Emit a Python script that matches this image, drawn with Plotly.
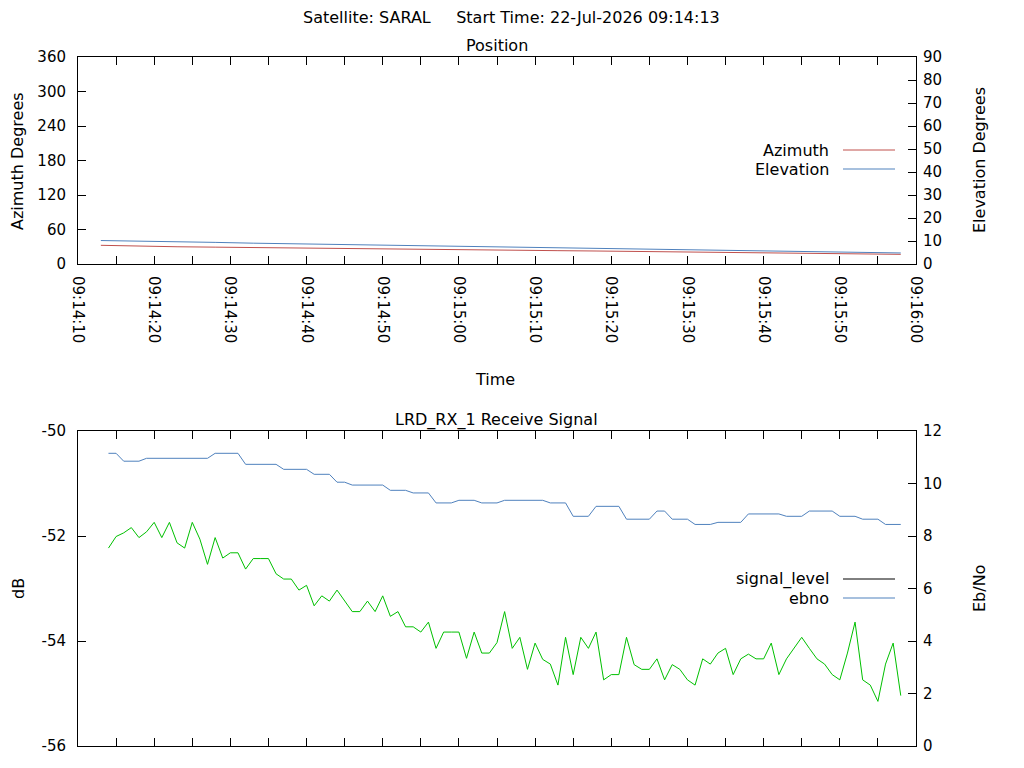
import plotly.graph_objects as go

DAY = "2026-07-22 "

# --- Position panel (sampled every 5 s) ---
pos_times = [
    "09:14:13", "09:14:18", "09:14:23", "09:14:28", "09:14:33", "09:14:38",
    "09:14:43", "09:14:48", "09:14:53", "09:14:58", "09:15:03", "09:15:08",
    "09:15:13", "09:15:18", "09:15:23", "09:15:28", "09:15:33", "09:15:38",
    "09:15:43", "09:15:48", "09:15:53", "09:15:58",
]
azimuth = [
    32.5, 31.0, 30.0, 29.3, 28.5, 27.6, 27.0, 26.2, 25.5, 25.0, 24.4, 23.8,
    23.2, 22.6, 22.0, 21.6, 21.0, 20.5, 19.9, 19.3, 18.7, 16.8,
]
elevation = [
    10.2, 10.0, 9.5, 9.4, 9.05, 8.8, 8.55, 8.3, 8.05, 7.8, 7.5, 7.3,
    7.05, 6.85, 6.6, 6.35, 6.1, 5.9, 5.6, 5.4, 5.1, 4.8,
]

# --- Receive signal panel (one sample per second from 09:14:14) ---
sig_start_sec = 14 * 60 + 14
signal_level = [
    -52.23, -52.01, -51.94, -51.84, -52.03, -51.92, -51.74, -52.03, -51.74, -52.13,
    -52.23, -51.74, -52.06, -52.54, -52.03, -52.42, -52.32, -52.32, -52.63, -52.43,
    -52.43, -52.43, -52.72, -52.82, -52.82, -53.03, -52.94, -53.33, -53.14, -53.24,
    -53.03, -53.24, -53.44, -53.44, -53.24, -53.44, -53.14, -53.53, -53.44, -53.73,
    -53.73, -53.83, -53.64, -54.14, -53.83, -53.83, -53.83, -54.33, -53.83, -54.23,
    -54.23, -54.03, -53.44, -54.14, -53.93, -54.54, -54.04, -54.35, -54.44, -54.84,
    -53.93, -54.64, -53.93, -54.14, -53.83, -54.74, -54.64, -54.64, -53.93, -54.45,
    -54.54, -54.54, -54.34, -54.74, -54.45, -54.54, -54.74, -54.84, -54.34, -54.44,
    -54.23, -54.14, -54.64, -54.34, -54.25, -54.34, -54.34, -54.04, -54.64, -54.34,
    -54.14, -53.93, -54.14, -54.34, -54.44, -54.64, -54.74, -54.23, -53.64, -54.74,
    -54.84, -55.15, -54.44, -54.04, -55.04,
]
ebno = [
    11.15, 11.15, 10.85, 10.85, 10.85, 10.96, 10.96, 10.96, 10.96, 10.96,
    10.96, 10.96, 10.96, 10.96, 11.15, 11.15, 11.15, 11.15, 10.73, 10.73,
    10.73, 10.73, 10.73, 10.54, 10.54, 10.54, 10.54, 10.35, 10.35, 10.35,
    10.05, 10.05, 9.94, 9.94, 9.94, 9.94, 9.94, 9.74, 9.74, 9.74,
    9.64, 9.64, 9.64, 9.26, 9.26, 9.26, 9.36, 9.36, 9.36, 9.26,
    9.26, 9.26, 9.36, 9.36, 9.36, 9.36, 9.36, 9.36, 9.26, 9.26,
    9.26, 8.75, 8.75, 8.75, 9.13, 9.13, 9.13, 9.13, 8.64, 8.64,
    8.64, 8.64, 8.95, 8.95, 8.64, 8.64, 8.64, 8.44, 8.44, 8.44,
    8.52, 8.52, 8.52, 8.52, 8.84, 8.84, 8.84, 8.84, 8.84, 8.75,
    8.75, 8.75, 8.95, 8.95, 8.95, 8.95, 8.75, 8.75, 8.75, 8.64,
    8.64, 8.64, 8.44, 8.44, 8.44,
]

# dB ticks written with a plain hyphen, as gnuplot does
db_ticks = [-56, -54, -52, -50]
db_labels = ["-56", "-54", "-52", "-50"]

RED = "#c0504d"
BLUE = "#4f81bd"
GREEN = "#00c000"
FONT = "DejaVu Sans"

# the page body adds an 8 px margin, so work in screen pixels and shift
OFF = 8
W, H = 1024 - 2 * OFF, 768 - 2 * OFF
L, R, T, B = 78, 916, 57, 746  # plot area on screen


def px(x):
    return (x - L) / (R - L)


def py(y):
    return (B - y) / (B - T)


def hms(sec):
    return f"{DAY}09:{sec // 60:02d}:{sec % 60:02d}"


pos_x = [DAY + t for t in pos_times]
sig_x = [hms(sig_start_sec + i) for i in range(len(signal_level))]

fig = go.Figure()
fig.add_trace(go.Scatter(x=pos_x, y=azimuth, mode="lines", line=dict(color=RED, width=1),
                         xaxis="x", yaxis="y", showlegend=False))
fig.add_trace(go.Scatter(x=pos_x, y=elevation, mode="lines", line=dict(color=BLUE, width=1),
                         xaxis="x", yaxis="y2", showlegend=False))
fig.add_trace(go.Scatter(x=sig_x, y=signal_level, mode="lines", line=dict(color=GREEN, width=1),
                         xaxis="x2", yaxis="y3", showlegend=False))
fig.add_trace(go.Scatter(x=sig_x, y=ebno, mode="lines", line=dict(color=BLUE, width=1),
                         xaxis="x2", yaxis="y4", showlegend=False))

x_range = [DAY + "09:14:10", DAY + "09:16:00"]
common_x = dict(
    type="date", range=x_range, tick0=DAY + "09:14:10", dtick=10000,
    ticks="inside", ticklen=8, tickcolor="black", showline=True, linecolor="black",
    mirror="allticks", showgrid=False, zeroline=False,
    tickfont=dict(size=15),
    minor=dict(dtick=5000, ticks="inside", ticklen=4, tickcolor="black", showgrid=False),
)
common_y = dict(ticks="inside", ticklen=8, tickcolor="black", showline=True,
                linecolor="black", showgrid=False, zeroline=False, tickfont=dict(size=15))

top_dom = [py(264), 1.0]
bot_dom = [0.0, py(431)]

fig.update_layout(
    width=W, height=H,
    margin=dict(l=L - OFF, r=W + OFF - R, t=T - OFF, b=H + OFF - B, autoexpand=False),
    paper_bgcolor="white", plot_bgcolor="white",
    font=dict(family=FONT, size=16, color="black"),
    showlegend=False,
    xaxis=dict(common_x, anchor="y", domain=[0, 1], tickformat="%H:%M:%S",
               tickangle=90, ticklabelstandoff=8, automargin=False),
    xaxis2=dict(common_x, anchor="y3", domain=[0, 1], showticklabels=False),
    yaxis=dict(common_y, domain=top_dom, range=[0, 360], dtick=60, anchor="x",
               ticklabelstandoff=8),
    yaxis2=dict(common_y, overlaying="y", side="right", range=[0, 90], dtick=10, anchor="x",
                ticklabelstandoff=3),
    yaxis3=dict(common_y, domain=bot_dom, range=[-56, -50], tickmode="array",
                tickvals=db_ticks, ticktext=db_labels, anchor="x2", ticklabelstandoff=8),
    yaxis4=dict(common_y, overlaying="y3", side="right", range=[0, 12], dtick=2, anchor="x2",
                ticklabelstandoff=3),
)

ann = [
    dict(text="Satellite: SARAL     Start Time: 22-Jul-2026 09:14:13", x=px(511), y=py(17)),
    dict(text="Position", x=px(497), y=py(46)),
    dict(text="LRD_RX_1 Receive Signal", x=px(496), y=py(420)),
    dict(text="Time", x=px(495), y=py(379)),
    dict(text="Azimuth Degrees", x=px(18), y=py(161), textangle=-90),
    dict(text="Elevation Degrees", x=px(979), y=py(160), textangle=-90),
    dict(text="dB", x=px(18), y=py(589), textangle=-90),
    dict(text="Eb/No", x=px(979), y=py(589), textangle=-90),
]
for a in ann:
    fig.add_annotation(xref="paper", yref="paper", showarrow=False,
                       xanchor="center", yanchor="middle", **a)

# gnuplot-style keys: right-aligned label, sample line to the right
keys = [
    ("Azimuth", RED, 150),
    ("Elevation", BLUE, 169),
    ("signal_level", "black", 579),
    ("ebno", BLUE, 598),
]
for label, color, ky in keys:
    fig.add_annotation(xref="paper", yref="paper", showarrow=False, text=label,
                       x=px(831), y=py(ky), xanchor="right", yanchor="middle")
    fig.add_shape(type="line", xref="paper", yref="paper",
                  x0=px(843), x1=px(895), y0=py(ky), y1=py(ky),
                  line=dict(color=color, width=1))

fig.write_html("out.html")
